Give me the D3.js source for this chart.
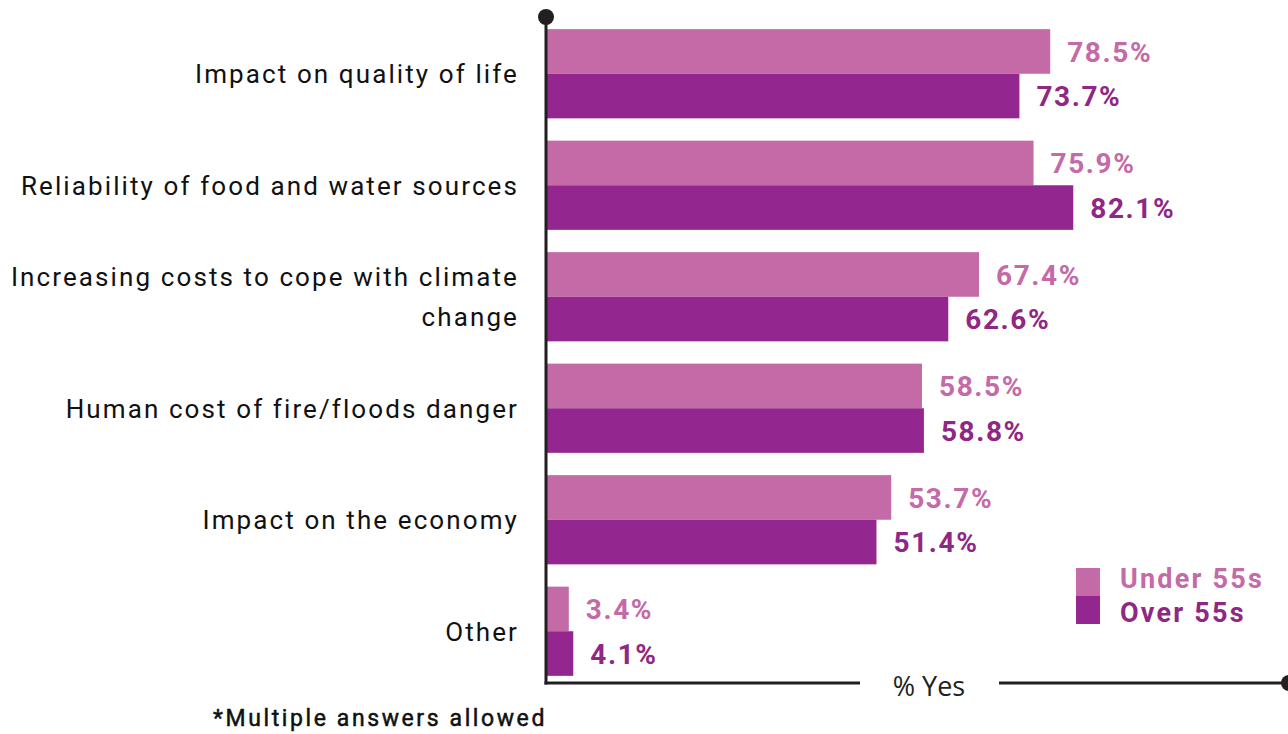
<!DOCTYPE html>
<html><head><meta charset="utf-8">
<script src="https://cdn.jsdelivr.net/npm/d3@7"></script>
<style>
html,body{margin:0;padding:0;background:#fff;}
svg{display:block;}
</style></head>
<body>
<svg id="chart" width="1288" height="734"></svg>
<script>
const categories = [
  ["Impact on quality of life"],
  ["Reliability of food and water sources"],
  ["Increasing costs to cope with climate", "change"],
  ["Human cost of fire/floods danger"],
  ["Impact on the economy"],
  ["Other"]
];
const under55 = [78.5, 75.9, 67.4, 58.5, 53.7, 3.4];
const over55 = [73.7, 82.1, 62.6, 58.8, 51.4, 4.1];
const seriesNames = ["Under 55s", "Over 55s"];
const colors = ["#C46AA7", "#93278F"];
const textColors = ["#C46AA7", "#8F2785"];
const axisTitle = "% Yes";
const footnote = "*Multiple answers allowed";

const svg = d3.select("#chart");
const x0 = 547;
const x = d3.scaleLinear().domain([0, 100]).range([x0, x0 + 641]);
const y = d3.scaleBand().domain(d3.range(categories.length)).range([18, 687]).paddingInner(0.2).paddingOuter(0.1);
const sub = d3.scaleBand().domain([0, 1]).range([0, y.bandwidth()]);

const series = [under55, over55];
series.forEach((vals, s) => {
  const g = svg.append("g");
  g.selectAll("rect").data(vals).join("rect")
    .attr("x", x(0))
    .attr("y", (d, i) => y(i) + sub(s))
    .attr("width", d => x(d) - x(0))
    .attr("height", sub.bandwidth())
    .attr("fill", colors[s]);
  g.selectAll("text").data(vals).join("text")
    .attr("x", d => x(d) + 17)
    .attr("y", (d, i) => y(i) + sub(s) + sub.bandwidth() / 2)
    .attr("dy", "0.36em")
    .attr("fill", textColors[s])
    .style("font-family", "Roboto, sans-serif")
    .style("font-weight", "700")
    .style("font-size", "28px")
    .style("letter-spacing", "1.6px")
    .text(d => d.toFixed(1) + "%");
});

// category labels
const lab = svg.append("g");
categories.forEach((lines, i) => {
  const cy = y(i) + y.bandwidth() / 2;
  const lh = 40;
  lines.forEach((ln, k) => {
    lab.append("text")
      .attr("x", 519)
      .attr("y", cy + (k - (lines.length - 1) / 2) * lh)
      .attr("dy", "0.36em")
      .attr("text-anchor", "end")
      .attr("fill", "#111")
      .style("font-family", "Roboto, sans-serif")
      .style("font-size", "26px")
      .style("letter-spacing", "2.1px")
      .text(ln);
  });
});

// axes
const axisY = 683;
svg.append("line").attr("x1", x0 - 1).attr("x2", x0 - 1).attr("y1", 17).attr("y2", axisY + 1.5)
  .attr("stroke", "#231F20").attr("stroke-width", 3);
svg.append("circle").attr("cx", x0 - 1).attr("cy", 17).attr("r", 8).attr("fill", "#231F20");
svg.append("line").attr("x1", x0 - 2.5).attr("x2", 860).attr("y1", axisY).attr("y2", axisY)
  .attr("stroke", "#231F20").attr("stroke-width", 3);
svg.append("line").attr("x1", 999).attr("x2", 1288).attr("y1", axisY).attr("y2", axisY)
  .attr("stroke", "#231F20").attr("stroke-width", 3);
svg.append("circle").attr("cx", 1289).attr("cy", axisY).attr("r", 8).attr("fill", "#231F20");
svg.append("text").attr("x", 929).attr("y", axisY + 3).attr("dy", "0.36em").attr("text-anchor", "middle")
  .attr("fill", "#231F20").style("font-family", "'Open Sans', sans-serif").style("font-size", "27px")
  .text(axisTitle);

// legend
const lg = svg.append("g");
seriesNames.forEach((n, s) => {
  lg.append("rect").attr("x", 1076).attr("y", 568 + s * 28).attr("width", 24).attr("height", 28).attr("fill", colors[s]);
  lg.append("text").attr("x", 1120).attr("y", 578 + s * 34).attr("dy", "0.36em")
    .attr("fill", textColors[s])
    .style("font-family", "Roboto, sans-serif").style("font-weight", "700").style("font-size", "27px")
    .style("letter-spacing", "2.2px")
    .text(n);
});

svg.append("text").attr("x", 213).attr("y", 718).attr("dy", "0.36em")
  .attr("fill", "#111").attr("stroke", "#111").attr("stroke-width", 0.5)
  .style("font-family", "Roboto, sans-serif").style("font-weight", "400")
  .style("font-size", "23px").style("letter-spacing", "2.6px")
  .text(footnote);
</script>
</body></html>
